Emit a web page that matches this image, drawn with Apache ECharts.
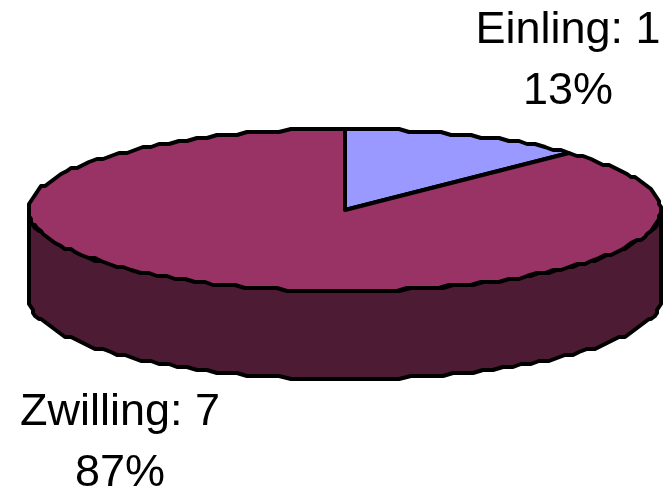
<!DOCTYPE html>
<html>
<head>
<meta charset="utf-8">
<style>html,body{margin:0;padding:0;background:#fff}#chart{width:666px;height:492px}</style>
<script src="https://cdn.jsdelivr.net/npm/echarts@6/dist/echarts.min.js"></script>
</head>
<body>
<div id="chart"></div>
<script>
// Birth counts by type
const categories = ['Einling', 'Zwilling'];
const counts = [1, 7];
const percentLabels = ['13%', '87%'];
const topColors = ['#9999FF', '#993366'];
const sideColors = ['#4D1B33', '#4D1B33'];

const total = counts.reduce((a, b) => a + b, 0);
const CX = 345, CY = 210, RX = 316, RY = 81, DEPTH = 88, SNAP_X = 2, SNAP_Y = 3, STEP = Math.PI / 90;

// Parametric point on the tilted disc; angle runs clockwise from 12 o'clock.
// Coordinates are snapped to a coarse grid to give the rim its stepped outline.
function rim(a, dy) {
  const x = RX * Math.sin(a);
  const y = -RY * Math.cos(a);
  return [CX + Math.round(x / SNAP_X) * SNAP_X, CY + Math.round(y / SNAP_Y) * SNAP_Y + dy];
}
function arc(a0, a1, dy) {
  const pts = [];
  const n = Math.max(1, Math.ceil((a1 - a0) / STEP));
  for (let i = 0; i <= n; i++) pts.push(rim(a0 + (a1 - a0) * i / n, dy));
  return pts;
}
const outline = { stroke: '#000', lineWidth: 4, lineJoin: 'round' };

function renderSlice(params, api) {
  const i = params.dataIndex;
  const before = counts.slice(0, i).reduce((a, b) => a + b, 0);
  const a0 = before / total * Math.PI * 2;
  const a1 = (before + api.value(0)) / total * Math.PI * 2;
  const children = [];

  // Visible wall: the part of the slice on the front half of the rim.
  const s0 = Math.max(a0, Math.PI / 2), s1 = Math.min(a1, Math.PI * 1.5);
  if (s1 > s0) {
    const front = arc(s0, s1, 0);
    const back = arc(s0, s1, DEPTH).reverse();
    children.push({
      type: 'polygon',
      shape: { points: front.concat(back) },
      style: Object.assign({ fill: sideColors[i] }, outline)
    });
  }
  // Top face
  children.push({
    type: 'polygon',
    shape: { points: [[CX, CY]].concat(arc(a0, a1, 0)) },
    style: Object.assign({ fill: topColors[i] }, outline)
  });
  return { type: 'group', children };
}

const labelStyle = { fill: '#000', fontFamily: 'Liberation Sans, Arial, sans-serif', fontSize: 45, align: 'center', verticalAlign: 'top', lineHeight: 61 };
const labelText = i => categories[i] + ': ' + counts[i] + '\n' + percentLabels[i];

const chart = echarts.init(document.getElementById('chart'), null, { renderer: 'canvas' });
chart.setOption({
  animation: false,
  backgroundColor: '#fff',
  series: [{
    type: 'custom',
    coordinateSystem: 'none',
    silent: true,
    data: counts.map((v, i) => ({ name: categories[i], value: [v] })),
    renderItem: renderSlice
  }],
  graphic: [
    { type: 'text', style: Object.assign({ x: 568, y: 0, text: labelText(0) }, labelStyle) },
    { type: 'text', style: Object.assign({ x: 120, y: 382, text: labelText(1) }, labelStyle) }
  ]
});
</script>
</body>
</html>
